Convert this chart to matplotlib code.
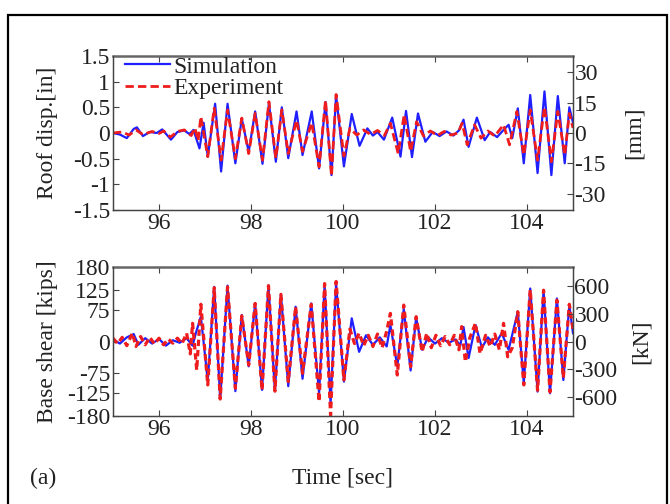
import matplotlib
matplotlib.use("Agg")
import matplotlib.pyplot as plt
from matplotlib.patches import Rectangle

plt.rcParams['font.family'] = ['Liberation Serif', 'DejaVu Serif']
plt.rcParams['axes.unicode_minus'] = False

# ---- Roof displacement [in] : simulation (extrema)
sim_disp_t = [95.0, 95.15, 95.3, 95.45, 95.52, 95.65, 95.8, 95.95, 96.07, 96.26, 96.4, 96.55, 96.66, 96.75,
              96.88, 96.97, 97.06, 97.22, 97.35, 97.49, 97.66, 97.80, 97.95, 98.09, 98.25, 98.39, 98.54,
              98.67, 98.81, 98.99, 99.12, 99.32, 99.48, 99.62, 99.75, 99.85, 100.02, 100.19, 100.36,
              100.53, 100.65, 100.75, 100.89, 101.07, 101.25, 101.37, 101.5, 101.63, 101.79, 101.95,
              102.1, 102.25, 102.4, 102.52, 102.62, 102.73, 102.91, 103.08, 103.2, 103.35, 103.48,
              103.6, 103.68, 103.8, 103.93, 104.07, 104.23, 104.38, 104.53, 104.67, 104.82, 104.92, 105.0]
sim_disp = [0.0, -0.03, -0.1, 0.08, 0.11, -0.06, 0.02, 0.0, 0.07, -0.13, 0.02, 0.05, -0.02, 0.06,
            -0.3, 0.2, -0.46, 0.57, -0.75, 0.57, -0.59, 0.28, -0.37, 0.42, -0.6, 0.58, -0.56,
            0.5, -0.49, 0.42, -0.43, 0.42, -0.69, 0.6, -0.82, 0.73, -0.65, 0.37, -0.25,
            0.09, -0.05, 0.02, -0.13, 0.3, -0.46, 0.43, -0.47, 0.38, -0.17, 0.02,
            -0.06, 0.03, -0.05, 0.05, 0.26, -0.27, 0.3, -0.14, 0.02, -0.08, 0.05,
            0.16, -0.1, 0.48, -0.59, 0.74, -0.78, 0.81, -0.82, 0.72, -0.59, 0.5, 0.2]

# ---- Roof displacement [in] : experiment
exp_disp_t = [95.0, 95.2, 95.35, 95.5, 95.65, 95.85, 96.0, 96.1, 96.25, 96.4, 96.55, 96.7, 96.78, 96.85,
              96.91, 97.06, 97.2, 97.35, 97.49, 97.66, 97.80, 97.95, 98.09, 98.25, 98.39, 98.54, 98.67,
              98.81, 98.99, 99.12, 99.32, 99.48, 99.62, 99.75, 99.85, 100.02, 100.15, 100.3, 100.45,
              100.6, 100.75, 100.9, 101.03, 101.2, 101.33, 101.47, 101.6, 101.75, 101.9, 102.05, 102.2,
              102.35, 102.5, 102.59, 102.7, 102.86, 103.0, 103.15, 103.3, 103.49, 103.62, 103.78,
              103.93, 104.07, 104.23, 104.38, 104.53, 104.67, 104.82, 104.92, 105.0]
exp_disp = [0.0, 0.02, -0.04, 0.06, -0.03, 0.03, -0.01, 0.04, -0.08, 0.03, 0.06, -0.05, 0.1, -0.15,
            0.32, -0.46, 0.48, -0.53, 0.45, -0.5, 0.29, -0.4, 0.38, -0.53, 0.61, -0.49, 0.45,
            -0.4, 0.25, -0.36, 0.2, -0.66, 0.64, -0.84, 0.75, -0.45, 0.09, -0.04, 0.06,
            -0.03, 0.05, -0.05, 0.19, -0.4, 0.36, -0.36, 0.22, -0.06, 0.04, -0.05, 0.03,
            -0.04, 0.0, 0.19, -0.23, 0.16, -0.1, 0.04, -0.06, 0.16, -0.23, 0.42,
            -0.43, 0.45, -0.53, 0.51, -0.56, 0.42, -0.43, 0.38, 0.1]

# ---- Base shear [kips] : simulation
sim_shear_t = [95.0, 95.15, 95.3, 95.45, 95.55, 95.7, 95.85, 96.0, 96.15, 96.3, 96.45, 96.6, 96.73, 96.8,
               96.91, 97.06, 97.2, 97.33, 97.49, 97.66, 97.8, 97.95, 98.09, 98.24, 98.38, 98.52, 98.65,
               98.81, 98.97, 99.12, 99.31, 99.48, 99.6, 99.73, 99.85, 100.02, 100.19, 100.35, 100.5,
               100.65, 100.8, 100.95, 101.03, 101.18, 101.32, 101.47, 101.59, 101.72, 101.85, 102.0,
               102.15, 102.3, 102.45, 102.55, 102.62, 102.73, 102.88, 103.02, 103.15, 103.3, 103.45,
               103.6, 103.8, 103.93, 104.07, 104.23, 104.36, 104.5, 104.65, 104.79, 104.92, 105.0]
sim_shear = [5, -5, 10, 18, -8, 8, -5, 6, -10, 3, -3, 8, -10, 20,
             60, -95, 132, -139, 135, -120, 64, -60, 92, -117, 135, -120, 114,
             -108, 84, -90, 92, -125, 135, -150, 140, -97, 56, -25, 15,
             -8, 10, -12, 40, -60, 78, -70, 58, -20, 10, -5,
             8, -3, 5, -10, 35, -40, 40, -15, 10, -8, 20,
             -20, 72, -100, 128, -121, 124, -125, 104, -93, 88, 20]

# ---- Base shear [kips] : experiment
exp_shear_t = [95.0, 95.1, 95.2, 95.3, 95.42, 95.5, 95.6, 95.7, 95.8, 95.9, 96.0, 96.1, 96.2, 96.3, 96.4,
               96.5, 96.6, 96.68, 96.73, 96.82, 96.91, 97.06, 97.2, 97.33, 97.49, 97.66, 97.8, 97.95,
               98.09, 98.24, 98.38, 98.52, 98.65, 98.81, 98.97, 99.12, 99.31, 99.48, 99.6, 99.73,
               99.85, 100.02, 100.15, 100.25, 100.35, 100.45, 100.55, 100.65, 100.75, 100.85, 100.95,
               101.03, 101.18, 101.32, 101.47, 101.59, 101.72, 101.82, 101.92, 102.02, 102.12, 102.22,
               102.32, 102.42, 102.52, 102.58, 102.66, 102.76, 102.88, 102.98, 103.1, 103.2, 103.3,
               103.4, 103.49, 103.58, 103.68, 103.8, 103.93, 104.07, 104.23, 104.36, 104.5, 104.65,
               104.79, 104.92, 105.0]
exp_shear = [8, -5, 10, -10, 20, -12, 12, -8, 10, -6, 8, -8, 6, -4, 8,
             -5, 20, -30, 44, -69, 90, -105, 130, -139, 132, -113, 62, -57,
             92, -117, 135, -120, 114, -97, 84, -77, 90, -145, 140, -178,
             145, -93, 30, -5, 20, -10, 15, -12, 18, -15, 25,
             68, -81, 88, -61, 60, -25, 20, -15, 15, -10, 12,
             -8, 15, -20, 36, -49, 10, 44, -29, 15, -12, 18,
             -20, 44, -37, -15, 72, -105, 125, -118, 124, -122, 100,
             -88, 90, 30]

xticks = [96, 98, 100, 102, 104]
disp_ticks = [1.5, 1, 0.5, 0, -0.5, -1, -1.5]
disp_labels = ['1.5', '1', '0.5', '0', '-0.5', '-1', '-1.5']
mm_ticks = [30, 15, 0, -15, -30]
shear_ticks = [180, 125, 75, 0, -75, -125, -180]
kn_ticks = [600, 300, 0, -300, -600]

BLUE = '#1f1fff'
RED = '#ee1c1c'
SPINE = '#444444'
TXT = '#222222'
FS = 17

fig = plt.figure(figsize=(6.7, 5.04), dpi=100)
fig.patches.append(Rectangle((8 / 670, -0.02), 659 / 670, 1 - 15 / 504 + 0.02,
                             transform=fig.transFigure, fill=False, edgecolor='black',
                             linewidth=1.6, zorder=0))

ax1 = fig.add_axes([113 / 670, 1 - 210 / 504, 460 / 670, 154 / 504])
ax2 = fig.add_axes([113 / 670, 1 - 416 / 504, 460 / 670, 149 / 504])


def style(ax):
    for s in ax.spines.values():
        s.set_color(SPINE)
        s.set_linewidth(1.0)
    ax.spines['top'].set_linewidth(1.8)
    ax.spines['top'].set_color('#666666')
    ax.tick_params(direction='in', length=4, width=0.8, colors=SPINE, labelcolor=TXT,
                   labelsize=FS, top=True, right=False, pad=2)


def style_right(ax):
    ax.tick_params(direction='in', length=4, width=0.8, colors=SPINE, labelcolor=TXT,
                   labelsize=FS, pad=1)
    for s in ax.spines.values():
        s.set_color(SPINE)
    ax.spines['top'].set_visible(False)


# Top panel
ax1.plot(sim_disp_t, sim_disp, color=BLUE, lw=1.6, solid_joinstyle='round', label='Simulation')
ax1.plot(exp_disp_t, exp_disp, color=RED, lw=2.0, ls=(0, (3, 1.5)), dash_joinstyle='round',
         label='Experiment')
ax1.set_xlim(95, 105)
ax1.set_ylim(-1.5, 1.5)
ax1.set_xticks(xticks)
ax1.set_xticklabels([str(t) for t in xticks])
ax1.set_yticks(disp_ticks)
ax1.set_yticklabels(disp_labels)
ax1.set_ylabel('Roof disp.[in]', fontsize=FS, color=TXT)
ax1.yaxis.set_label_coords((58 - 113) / 460, 0.5)
style(ax1)
leg = ax1.legend(loc='upper left', bbox_to_anchor=(12 / 460, 1.0), frameon=False, fontsize=FS,
                 handlelength=1.9, handletextpad=0.15, borderaxespad=0.0, borderpad=0.0,
                 labelspacing=0.0)
for t in leg.get_texts():
    t.set_color(TXT)
ax1r = ax1.twinx()
ax1r.set_ylim(-1.5 * 25.4, 1.5 * 25.4)
ax1r.set_yticks(mm_ticks)
ax1r.set_yticklabels([str(v) for v in mm_ticks])
style_right(ax1r)
ax1r.set_ylabel('[mm]', fontsize=FS, color=TXT)
ax1r.yaxis.set_label_coords((624 - 113) / 460, 0.5)

# Bottom panel
ax2.plot(sim_shear_t, sim_shear, color=BLUE, lw=1.6, solid_joinstyle='round')
ax2.plot(exp_shear_t, exp_shear, color=RED, lw=2.3, ls=(0, (2, 1.2)), dash_joinstyle='round')
ax2.set_xlim(95, 105)
ax2.set_ylim(-180, 180)
ax2.set_xticks(xticks)
ax2.set_xticklabels([str(t) for t in xticks])
ax2.set_yticks(shear_ticks)
ax2.set_yticklabels([str(v) for v in shear_ticks])
ax2.set_ylabel('Base shear [kips]', fontsize=FS, color=TXT)
ax2.yaxis.set_label_coords((58 - 113) / 460, 0.5)
style(ax2)
ax2r = ax2.twinx()
ax2r.set_ylim(-180 * 4.44822, 180 * 4.44822)
ax2r.set_yticks(kn_ticks)
ax2r.set_yticklabels([str(v) for v in kn_ticks])
style_right(ax2r)
ax2r.set_ylabel('[kN]', fontsize=FS, color=TXT)
ax2r.yaxis.set_label_coords((631 - 113) / 460, 0.5)

fig.text(343 / 670, 1 - 478 / 504, 'Time [sec]', fontsize=FS, va='center', ha='center', color=TXT)
fig.text(30 / 670, 1 - 478 / 504, '(a)', fontsize=FS, va='center', ha='left', color=TXT)

fig.savefig('out.png', dpi=100)
